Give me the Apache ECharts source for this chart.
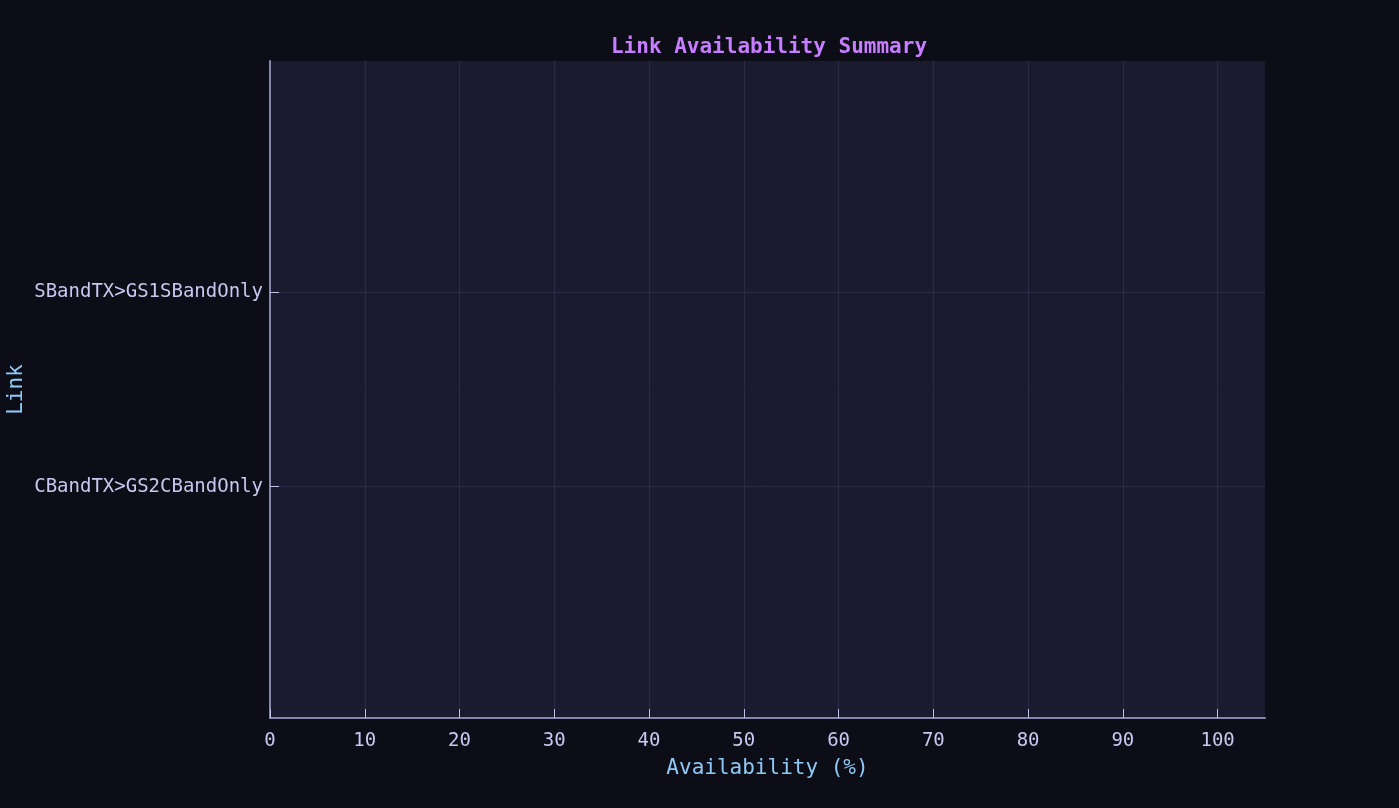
<!DOCTYPE html>
<html>
<head>
<meta charset="utf-8">
<script src="https://cdn.jsdelivr.net/npm/echarts@6/dist/echarts.min.js"></script>
<style>
html,body{margin:0;padding:0;background:#0d0d18;}
#c{width:1399px;height:808px;}
</style>
</head>
<body>
<div id="c"></div>
<script>
const links = ['CBandTX>GS2CBandOnly', 'SBandTX>GS1SBandOnly'];
const availability = [0, 0];
const xTicks = [0, 10, 20, 30, 40, 50, 60, 70, 80, 90, 100];

const FONT = '"DejaVu Sans Mono", monospace';
const chart = echarts.init(document.getElementById('c'));
const linkIdx = links.map((_, i) => i);
chart.setOption({
  backgroundColor: '#0d0d18',
  animation: false,
  title: {
    text: 'Link Availability Summary',
    left: 764, textAlign: 'center', top: 32,
    textStyle: { color: '#c77dff', fontFamily: FONT, fontSize: 21, fontWeight: 'bold' }
  },
  grid: { left: 270, right: 134, top: 61, bottom: 90, show: true, backgroundColor: '#1b1b30', borderWidth: 0,
    containLabel: false, outerBoundsMode: 'none' },
  xAxis: {
    type: 'value', min: 0, max: 105, interval: 10,
    name: 'Availability (%)', nameLocation: 'middle', nameGap: 40, nameMoveOverlap: false,
    nameTextStyle: { color: '#8ecaf5', fontFamily: FONT, fontSize: 21 },
    axisLine: { show: true, onZero: false, lineStyle: { color: '#8585ad', width: 2 } },
    axisTick: { show: true, inside: true, length: 9, customValues: xTicks, lineStyle: { color: '#c0c0ea', width: 1 } },
    axisLabel: { color: '#c8c8f0', fontFamily: FONT, fontSize: 19, margin: 14, customValues: xTicks },
    splitLine: { show: true, lineStyle: { color: '#2b2b45', width: 1 } }
  },
  yAxis: [{
    type: 'value', min: -1.19, max: 2.19,
    name: 'Link', nameLocation: 'middle', nameGap: 243, nameRotate: 90, nameMoveOverlap: false,
    nameTextStyle: { color: '#8ecaf5', fontFamily: FONT, fontSize: 21 },
    axisLine: { show: true, onZero: false, lineStyle: { color: '#8585ad', width: 2 } },
    axisTick: { show: true, inside: true, length: 9, customValues: linkIdx, lineStyle: { color: '#c0c0ea', width: 1 } },
    axisLabel: { color: '#c8c8f0', fontFamily: FONT, fontSize: 19, margin: 7, customValues: linkIdx,
      formatter: v => links[Math.round(v)] || '' },
    splitLine: { show: true, lineStyle: { color: '#2b2b45', width: 1 } }
  }, {
    type: 'category', data: links, show: false,
    axisLine: { show: false }, axisTick: { show: false }, axisLabel: { show: false }, splitLine: { show: false }
  }],
  series: [{
    type: 'bar',
    yAxisIndex: 1,
    barWidth: 40,
    itemStyle: { color: '#c77dff' },
    data: availability
  }]
});
</script>
</body>
</html>
